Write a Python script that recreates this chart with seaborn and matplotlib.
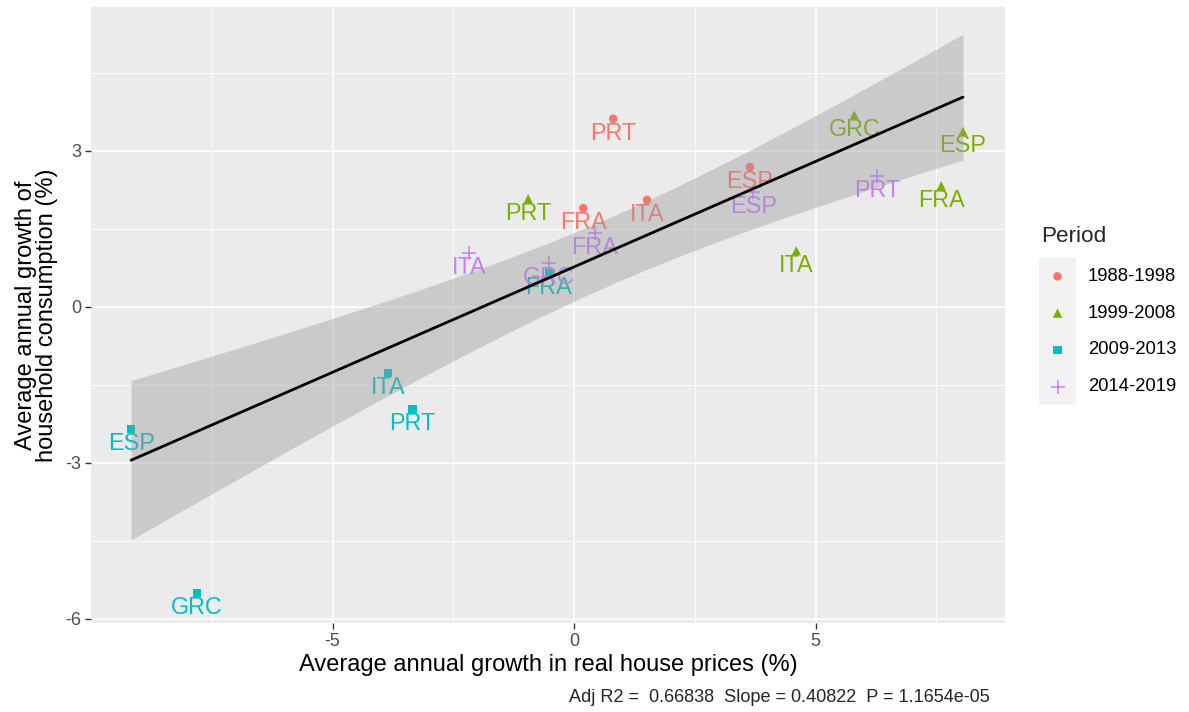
import numpy as np
import pandas as pd
import matplotlib
matplotlib.use("Agg")
import matplotlib.pyplot as plt
import seaborn as sns

# ---- data: average annual growth (%) by country and period ----
periods = ["1988-1998", "1999-2008", "2009-2013", "2014-2019"]

countries_8898 = ["PRT", "FRA", "ITA", "ESP"]
house_8898 = [0.81, 0.19, 1.51, 3.64]
cons_8898 = [3.62, 1.90, 2.06, 2.69]

countries_9908 = ["PRT", "GRC", "ESP", "FRA", "ITA"]
house_9908 = [-0.95, 5.80, 8.05, 7.60, 4.60]
cons_9908 = [2.08, 3.69, 3.38, 2.33, 1.08]

countries_0913 = ["ESP", "GRC", "ITA", "PRT", "FRA"]
house_0913 = [-9.17, -7.81, -3.85, -3.35, -0.52]
cons_0913 = [-2.35, -5.50, -1.27, -1.96, 0.65]

countries_1419 = ["ITA", "GRC", "FRA", "ESP", "PRT"]
house_1419 = [-2.17, -0.52, 0.43, 3.71, 6.27]
cons_1419 = [1.04, 0.85, 1.42, 2.21, 2.52]

caption = "Adj R2 =  0.66838  Slope = 0.40822  P = 1.1654e-05"

frames = []
for per, c, hx, cy in [
    (periods[0], countries_8898, house_8898, cons_8898),
    (periods[1], countries_9908, house_9908, cons_9908),
    (periods[2], countries_0913, house_0913, cons_0913),
    (periods[3], countries_1419, house_1419, cons_1419),
]:
    frames.append(pd.DataFrame({"Period": per, "country": c, "house": hx, "cons": cy}))
df = pd.concat(frames, ignore_index=True)

# ---- OLS fit with analytic 95% confidence band ----
x = df["house"].to_numpy()
y = df["cons"].to_numpy()
n = len(x)
slope, intercept = np.polyfit(x, y, 1)
resid = y - (intercept + slope * x)
s_err = np.sqrt(np.sum(resid ** 2) / (n - 2))
sxx = np.sum((x - x.mean()) ** 2)
t_crit = 2.109816  # two-sided 95%, 17 degrees of freedom
grid = np.linspace(x.min(), x.max(), 200)
fit = intercept + slope * grid
half = t_crit * s_err * np.sqrt(1.0 / n + (grid - x.mean()) ** 2 / sxx)
fit_df = pd.DataFrame({"house": grid, "cons": fit})

# ---- styling ----
palette = dict(zip(periods, ["#F8766D", "#7CAE00", "#00BFC4", "#C77CFF"]))
markers = dict(zip(periods, ["o", "^", "s", "+"]))
sizes = dict(zip(periods, [38, 45, 38, 110]))

sns.set_theme(style="darkgrid")
plt.rcParams["font.family"] = ["Liberation Sans", "DejaVu Sans"]

fig = plt.figure(figsize=(11.89, 7.12), dpi=100)
fig.patch.set_facecolor("white")
ax = fig.add_axes([91 / 1189, 1 - 623 / 712, 914 / 1189, 616 / 712])
ax.set_facecolor("#EBEBEB")

# points
for per in periods:
    sub = df[df["Period"] == per]
    kw = dict(edgecolor="none") if markers[per] != "+" else dict(linewidth=1.1)
    sns.scatterplot(data=sub, x="house", y="cons", marker=markers[per],
                    color=palette[per], s=sizes[per], ax=ax, zorder=2,
                    legend=False, **kw)

# country labels under each point
for _, r in df.iterrows():
    ax.text(r["house"], r["cons"] - 0.28, r["country"], ha="center", va="center",
            color=palette[r["Period"]], fontsize=16.8, zorder=2)

# regression band and line
ax.fill_between(grid, fit - half, fit + half, color="#999999", alpha=0.4,
                linewidth=0, zorder=3)
sns.lineplot(data=fit_df, x="house", y="cons", color="black", lw=2.0, ax=ax,
             zorder=4, legend=False)

ax.set_xlim(-10.0, 8.92)
ax.set_ylim(-6.08, 5.77)
ax.set_xticks([-5, 0, 5])
ax.set_xticklabels(["-5", "0", "5"])
ax.set_yticks([-6, -3, 0, 3])
ax.set_yticklabels(["-6", "-3", "0", "3"])
ax.set_xticks([-7.5, -2.5, 2.5, 7.5], minor=True)
ax.set_yticks([-4.5, -1.5, 1.5, 4.5], minor=True)
ax.grid(True, which="major", color="white", lw=1.1)
ax.grid(True, which="minor", color="white", lw=0.55)
ax.set_axisbelow(True)
for s in ax.spines.values():
    s.set_visible(False)
ax.tick_params(axis="both", which="major", length=4, width=1.0, color="#333333",
               labelcolor="#4D4D4D", labelsize=13, pad=3, bottom=True, left=True)
ax.tick_params(axis="both", which="minor", length=0)

ax.set_xlabel("Average annual growth in real house prices (%)", fontsize=17,
              color="black", labelpad=3)
ax.set_ylabel("Average annual growth of\nhousehold consumption (%)", fontsize=17,
              color="black", labelpad=5, linespacing=0.95)

# legend
fig.text(1041 / 1189, 1 - 237 / 712, "Period", fontsize=16.2, ha="left", va="center")
lax = fig.add_axes([1039 / 1189, 1 - 405 / 712, 37 / 1189, 147 / 712])
lax.set_facecolor("#F2F2F2")
lax.set_xlim(0, 1)
lax.set_ylim(0, 4)
for i, per in enumerate(periods):
    yy = 3.5 - i
    kw = dict(edgecolors="none") if markers[per] != "+" else dict(linewidths=1.1)
    lax.scatter([0.5], [yy], marker=markers[per], color=palette[per],
                s=sizes[per] * (0.8 if markers[per] == "+" else 1.0), **kw)
    fig.text(1088 / 1189, (1 - 405 / 712) + (147 / 712) * yy / 4, per,
             fontsize=13.3, ha="left", va="center", color="black")
lax.set_xticks([])
lax.set_yticks([])
lax.grid(False)
for s in lax.spines.values():
    s.set_visible(False)

fig.text(990 / 1189, 1 - 697 / 712, caption, fontsize=13.1, ha="right", va="center")

fig.savefig("out.png", dpi=100)
